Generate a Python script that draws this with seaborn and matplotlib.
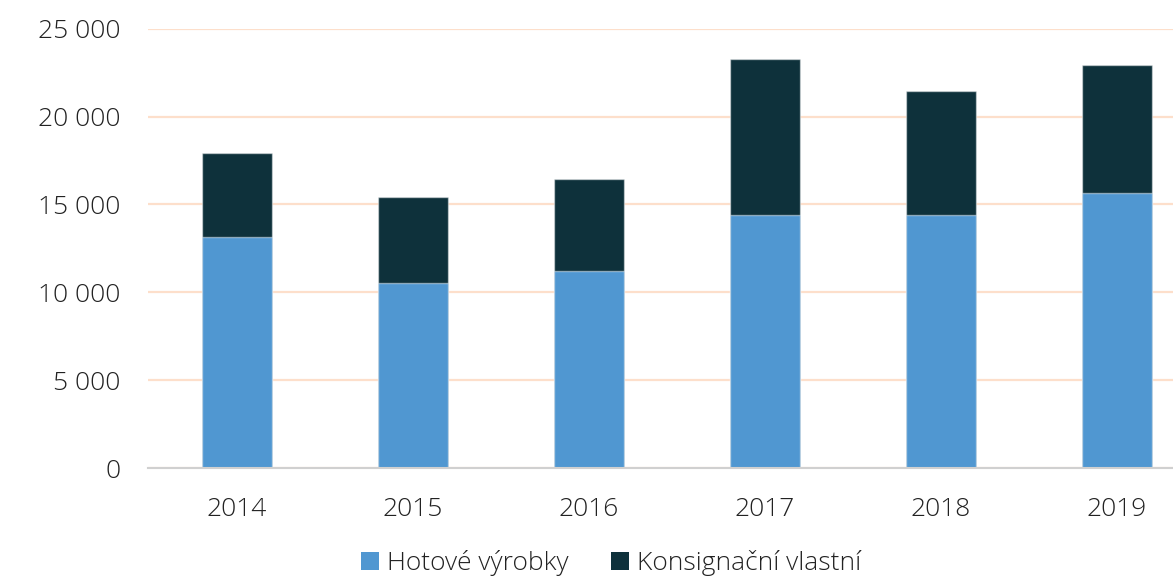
import matplotlib
matplotlib.use("Agg")
import matplotlib.pyplot as plt
import matplotlib.ticker as mticker
from matplotlib.patches import Patch
import seaborn as sns
import pandas as pd

years = ["2014", "2015", "2016", "2017", "2018", "2019"]
hotove = [13140, 10520, 11210, 14410, 14390, 15640]
konsignacni = [4780, 4900, 5230, 8890, 7050, 7320]
series_names = ["Hotové výrobky", "Konsignační vlastní"]
yticks = [0, 5000, 10000, 15000, 20000, 25000]

blue = "#5097D1"
dark = "#0E313B"

sns.set_theme(style="white")
plt.rcParams["font.family"] = ["Open Sans", "DejaVu Sans"]

df = pd.DataFrame({"year": years, "hotove": hotove, "kons": konsignacni})
df["total"] = df["hotove"] + df["kons"]

fig = plt.figure(figsize=(11.73, 5.79), dpi=100)
ax = fig.add_axes([148/1173, 1-468/579, 1-148/1173, (468-28.7)/579])

edge = (1, 1, 1, 0.45)
sns.barplot(data=df, x="year", y="total", color=dark, width=0.4, ax=ax,
            edgecolor=edge, linewidth=1, saturation=1, zorder=3)
sns.barplot(data=df, x="year", y="hotove", color=blue, width=0.4, ax=ax,
            edgecolor=edge, linewidth=1, saturation=1, zorder=3)

ax.set_ylim(0, 25000)
ax.set_xlim(-0.506, 5.318)
ax.set_yticks(yticks)
ax.yaxis.set_major_formatter(mticker.FuncFormatter(lambda v, p: f"{int(v):,}".replace(",", " ")))
ax.set_xlabel("")
ax.set_ylabel("")
ax.grid(axis="y", color="#FDDFCB", linewidth=1.6, zorder=0)
ax.grid(axis="x", visible=False)
for s in ["top", "right", "left"]:
    ax.spines[s].set_visible(False)
ax.spines["bottom"].set_color("#D0D0D0")
ax.spines["bottom"].set_linewidth(1.5)
ax.spines["bottom"].set_zorder(4)
ax.tick_params(axis="y", length=0, pad=20, labelsize=19, labelcolor="#222222")
ax.tick_params(axis="x", length=0, pad=21, labelsize=19, labelcolor="#222222")
for lab in ax.get_xticklabels() + ax.get_yticklabels():
    lab.set_fontweight("light")

handles = [Patch(facecolor=blue, edgecolor="none"), Patch(facecolor=dark, edgecolor="none")]
leg = fig.legend(handles, series_names, loc="center", bbox_to_anchor=(0.521, 1 - 563/579),
                 ncol=2, frameon=False, handlelength=0.7, handleheight=0.7,
                 handletextpad=0.3, columnspacing=1.6, borderpad=0,
                 prop={"family": ["Open Sans", "DejaVu Sans"], "weight": "light", "size": 19})
for t in leg.get_texts():
    t.set_color("#222222")

fig.savefig("out.png", dpi=100)
